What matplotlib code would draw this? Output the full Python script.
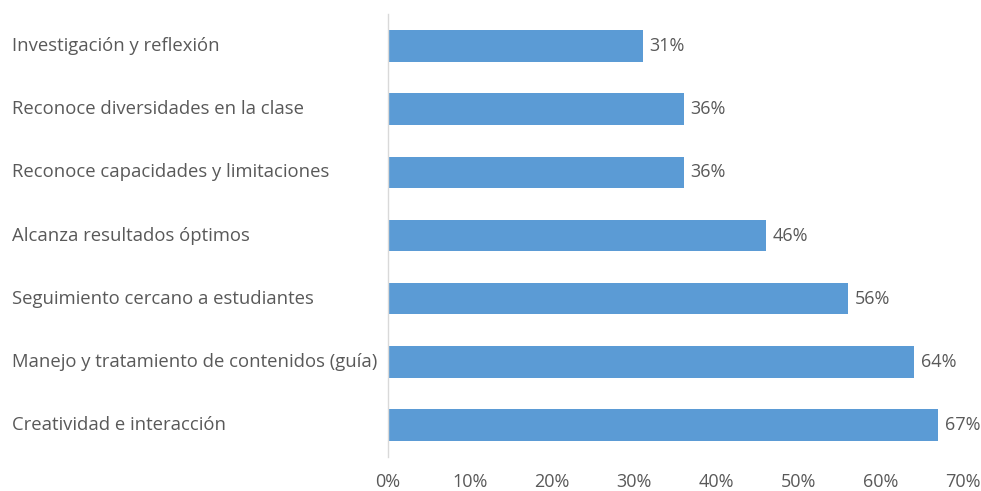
import matplotlib
matplotlib.use("Agg")
import matplotlib.pyplot as plt
from matplotlib.transforms import blended_transform_factory, offset_copy
from matplotlib.ticker import FuncFormatter

categories = [
    "Investigación y reflexión",
    "Reconoce diversidades en la clase",
    "Reconoce capacidades y limitaciones",
    "Alcanza resultados óptimos",
    "Seguimiento cercano a estudiantes",
    "Manejo y tratamiento de contenidos (guía)",
    "Creatividad e interacción",
]
values = [31, 36, 36, 46, 56, 64, 67]
xticks = [0, 10, 20, 30, 40, 50, 60, 70]

plt.rcParams['font.family'] = ['Open Sans', 'DejaVu Sans']
txt = '#595959'
bar_color = '#5B9BD5'

fig = plt.figure(figsize=(9.81, 4.91), dpi=100)
ax = fig.add_axes([388/981, 1-456.6/491, (963-388)/981, (456.6-14.4)/491])

ypos = list(range(len(categories)))
ax.barh(ypos, values, height=0.5, color=bar_color)
ax.set_ylim(len(categories)-0.5, -0.5)
ax.set_xlim(0, 70)
ax.set_xticks(xticks)
ax.xaxis.set_major_formatter(FuncFormatter(lambda v, p: f"{int(v)}%"))
ax.tick_params(axis='x', length=0, pad=12, labelsize=13, colors=txt)
ax.set_yticks([])
for s in ['top', 'right', 'bottom']:
    ax.spines[s].set_visible(False)
ax.spines['left'].set_color('#D9D9D9')
ax.spines['left'].set_linewidth(1)

trans = blended_transform_factory(fig.transFigure, ax.transData)
for y, c in zip(ypos, categories):
    ax.text(12/981, y, c, transform=trans, ha='left', va='center', fontsize=13.3, color=txt)

vt = offset_copy(ax.transData, fig=fig, x=5, y=0, units='points')
for y, v in zip(ypos, values):
    ax.text(v, y, f"{v}%", transform=vt, ha='left', va='center', fontsize=13, color=txt)

fig.savefig("out.png", dpi=100)
